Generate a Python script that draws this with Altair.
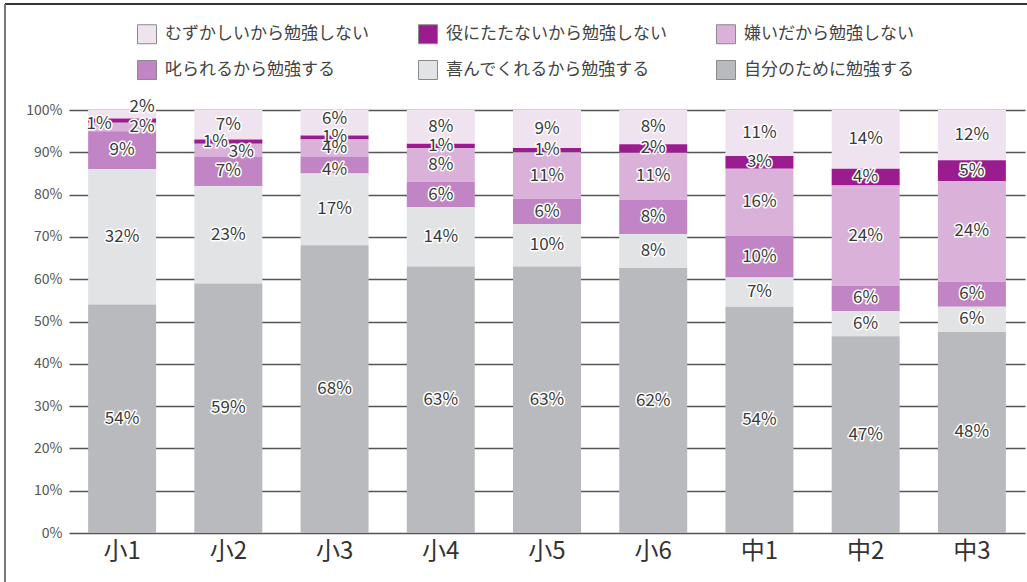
import altair as alt
import pandas as pd

grades = ["小1", "小2", "小3", "小4", "小5", "小6", "中1", "中2", "中3"]
categories = [
    "むずかしいから勉強しない",
    "役にたたないから勉強しない",
    "嫌いだから勉強しない",
    "叱られるから勉強する",
    "喜んでくれるから勉強する",
    "自分のために勉強する",
]
colors = ["#efe3f0", "#9b1c8f", "#d9b1d9", "#c184c5", "#e1e3e5", "#b8babd"]

muzukashii = [2, 7, 6, 8, 9, 8, 11, 14, 12]
yakuni = [1, 1, 1, 1, 1, 2, 3, 4, 5]
kirai = [2, 3, 4, 8, 11, 11, 16, 24, 24]
shikarareru = [9, 7, 4, 6, 6, 8, 10, 6, 6]
yorokonde = [32, 23, 17, 14, 10, 8, 7, 6, 6]
jibun = [54, 59, 68, 63, 63, 62, 54, 47, 48]

series = [muzukashii, yakuni, kirai, shikarareru, yorokonde, jibun]

# label nudges (style only): (grade, category index) -> (dx, dy)
nudges = {
    ("小1", 1): (-23, 3),
    ("小1", 2): (20, 0),
    ("小1", 0): (20, -7),
    ("小2", 1): (-13, 0),
    ("小2", 2): (13, 2),
    ("小3", 0): (0, -4),
    ("小3", 3): (0, 5),
}

rows = []
for ci, (cat, vals) in enumerate(zip(categories, series)):
    for g, v in zip(grades, vals):
        key = "none"
        if (g, ci) in nudges:
            key = f"{g}_{ci}"
        rows.append({"grade": g, "category": cat, "value": v,
                     "order": len(categories) - 1 - ci, "nudge": key})
df = pd.DataFrame(rows)

FONT = "Noto Sans CJK JP"

base = alt.Chart(df)

x_enc = alt.X(
    "grade:N", sort=grades, title=None,
    scale=alt.Scale(paddingInner=0.36, paddingOuter=0.18),
    axis=alt.Axis(labelAngle=0, labelFontSize=24, labelColor="#333333",
                  labelFont=FONT, labelPadding=6, ticks=False, domain=False),
)

bars = base.mark_bar().encode(
    x=x_enc,
    y=alt.Y("value:Q", stack="normalize", title=None,
            scale=alt.Scale(domain=[0, 1]),
            axis=alt.Axis(format=".0%", values=[i / 10 for i in range(11)],
                          labelFontSize=14, labelColor="#555555", labelFont=FONT,
                          labelPadding=7, ticks=False, domain=False,
                          grid=True, gridColor="#555555", gridWidth=1.6)),
    color=alt.Color("category:N",
                    scale=alt.Scale(domain=categories, range=colors),
                    legend=alt.Legend(title=None, orient="none", legendX=68, legendY=-86,
                                      direction="horizontal",
                                      columns=3, columnPadding=47, rowPadding=12,
                                      symbolType="square", symbolSize=361,
                                      symbolStrokeColor="#8a8a8a", symbolStrokeWidth=1,
                                      labelFontSize=17, labelColor="#444444",
                                      labelFont=FONT, labelOffset=8, labelLimit=400)),
    order=alt.Order("order:Q"),
)

lab_base = base.transform_stack(
    stack="value", groupby=["grade"],
    sort=[alt.SortField("order", "ascending")],
    as_=["v0", "v1"], offset="normalize",
).transform_calculate(
    mid="(datum.v0 + datum.v1) / 2",
    label="datum.value + '%'",
)

layers = [bars]
groups = [("none", (0, 0))] + [(f"{g}_{ci}", d) for (g, ci), d in nudges.items()]
for key, (dx, dy) in groups:
    sub = lab_base.transform_filter(alt.datum.nudge == key)
    enc = dict(x=alt.X("grade:N", sort=grades), y=alt.Y("mid:Q"), text="label:N")
    halo = sub.mark_text(fontSize=17, font=FONT, dx=dx, dy=dy, stroke="white",
                         strokeWidth=3, strokeJoin="round", fill="white").encode(**enc)
    txt = sub.mark_text(fontSize=17, font=FONT, dx=dx, dy=dy,
                        fill="#3a3a3a").encode(**enc)
    layers += [halo, txt]

frame_data = alt.Data(values=[{"k": 1}])
top_line = alt.Chart(frame_data).mark_rule(color="#333333", strokeWidth=2).encode(
    x=alt.value(-64), x2=alt.value(958), y=alt.value(-106))
left_line = alt.Chart(frame_data).mark_rule(color="#777777", strokeWidth=2).encode(
    x=alt.value(-64), y=alt.value(-106), y2=alt.value(472))
layers += [top_line, left_line]

chart = alt.layer(*layers).properties(
    width=956, height=423,
    autosize=alt.AutoSizeParams(type="none"),
    padding={"left": 69, "top": 110, "right": 2, "bottom": 49},
    background="white",
).configure_view(stroke=None)

chart.save("out.html", embed_options={"renderer": "svg", "actions": False})
